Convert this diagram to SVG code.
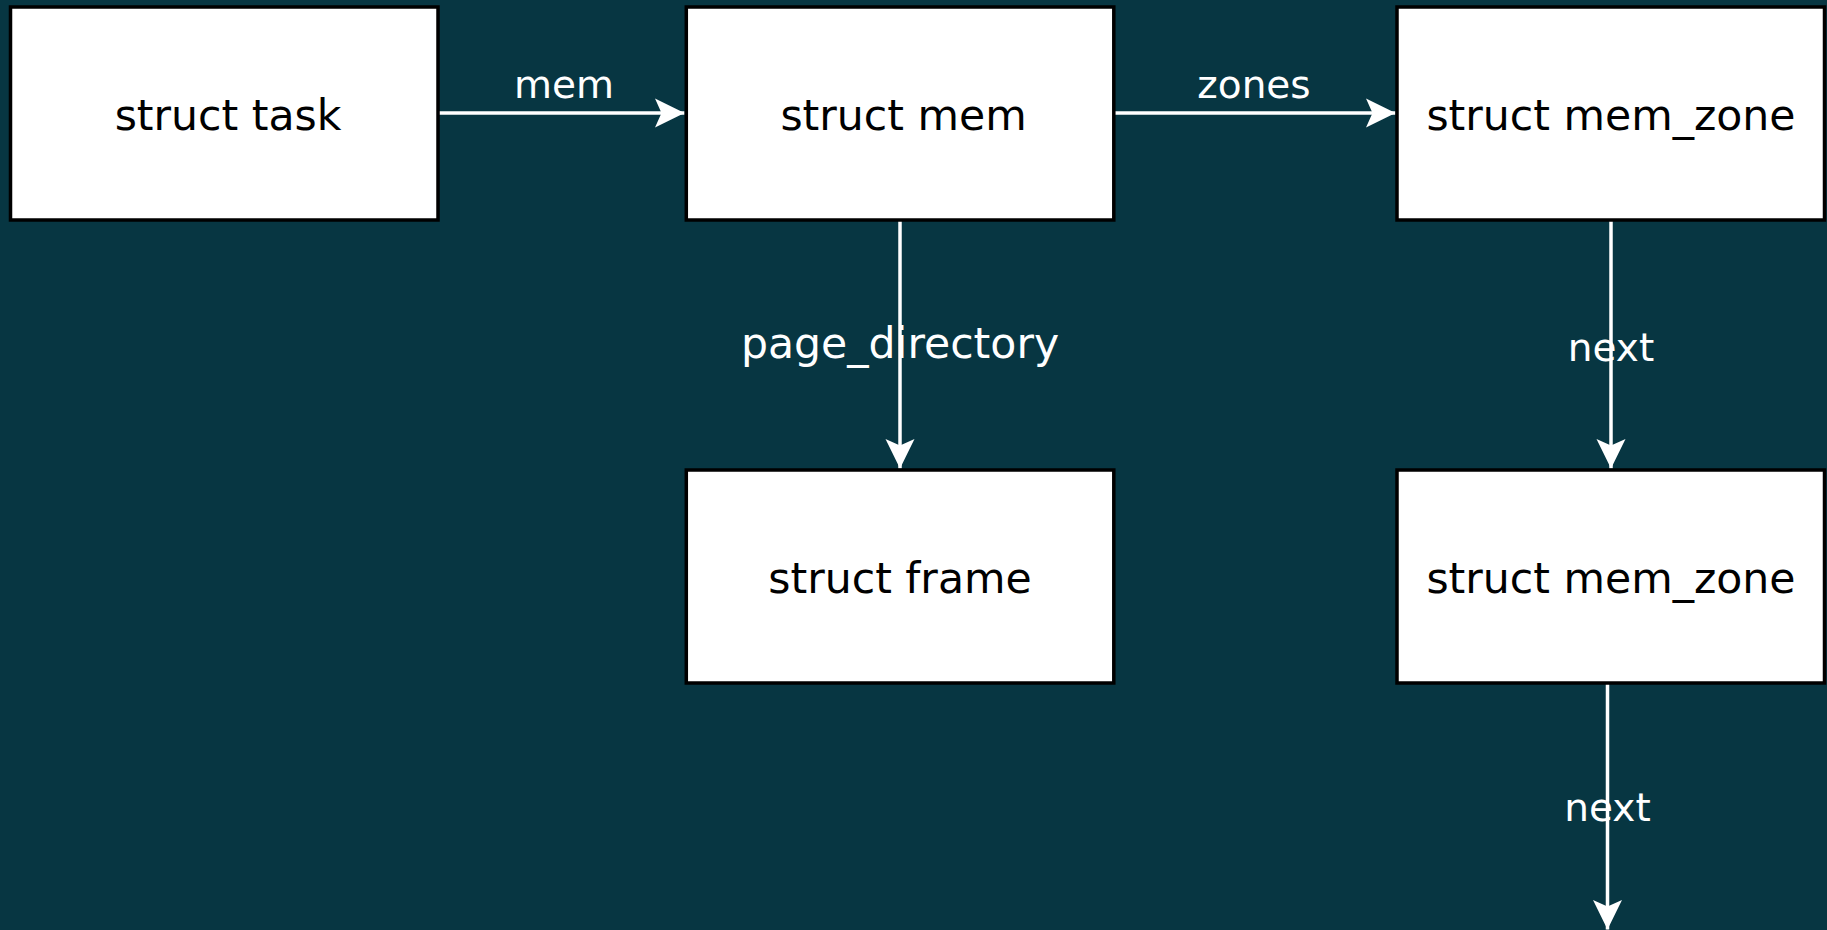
<svg xmlns="http://www.w3.org/2000/svg" width="1827" height="930" viewBox="0 0 1827 930">
  <style>
    .node rect { fill: #ffffff; stroke: #000000; stroke-width: 3.5; }
    .node text { font-family: "DejaVu Sans", "Liberation Sans", sans-serif; font-size: 42.6px; fill: #000000; text-anchor: middle; }
    .edge { stroke: #ffffff; stroke-width: 3.5; fill: none; }
    .label { font-family: "DejaVu Sans", "Liberation Sans", sans-serif; font-size: 39px; fill: #ffffff; text-anchor: middle; }
    .label.big { font-size: 42.6px; }
  </style>
  <defs>
    <!-- classic arrowhead, drawn in user units -->
    <marker id="arrow" markerUnits="userSpaceOnUse" viewBox="-31 -16 32 32" markerWidth="32" markerHeight="32" refX="0" refY="0" orient="auto">
      <path d="M0,0 L-29.5,-14.5 L-23,0 L-29.5,14.5 Z" fill="#ffffff"/>
    </marker>
  </defs>

  <rect x="0" y="0" width="1827" height="930" fill="#073642"/>

  <g id="connectors">
    <line class="edge" x1="438" y1="113" x2="684.5" y2="113" marker-end="url(#arrow)"/>
    <text class="label" x="564" y="98">mem</text>

    <line class="edge" x1="1114" y1="113" x2="1395.5" y2="113" marker-end="url(#arrow)"/>
    <text class="label" x="1254" y="98">zones</text>

    <line class="edge" x1="900" y1="220" x2="900" y2="468.5" marker-end="url(#arrow)"/>
    <text class="label big" x="900" y="358">page_directory</text>

    <line class="edge" x1="1611" y1="220" x2="1611" y2="468.5" marker-end="url(#arrow)"/>
    <text class="label" x="1611" y="361">next</text>

    <line class="edge" x1="1607.5" y1="683" x2="1607.5" y2="929.5" marker-end="url(#arrow)"/>
    <text class="label" x="1607.5" y="821">next</text>
  </g>

  <g id="task" class="node">
    <rect x="10.5" y="7" width="427.5" height="213"/>
    <text x="228" y="129.5">struct task</text>
  </g>

  <g id="mem" class="node">
    <rect x="686.3" y="7" width="427.5" height="213"/>
    <text x="903.5" y="129.5">struct mem</text>
  </g>

  <g id="mem_zone_1" class="node">
    <rect x="1397" y="7" width="427.5" height="213"/>
    <text x="1611" y="129.5">struct mem_zone</text>
  </g>

  <g id="frame" class="node">
    <rect x="686.3" y="470" width="427.5" height="213"/>
    <text x="900" y="592.5">struct frame</text>
  </g>

  <g id="mem_zone_2" class="node">
    <rect x="1397" y="470" width="427.5" height="213"/>
    <text x="1611" y="592.5">struct mem_zone</text>
  </g>
</svg>
